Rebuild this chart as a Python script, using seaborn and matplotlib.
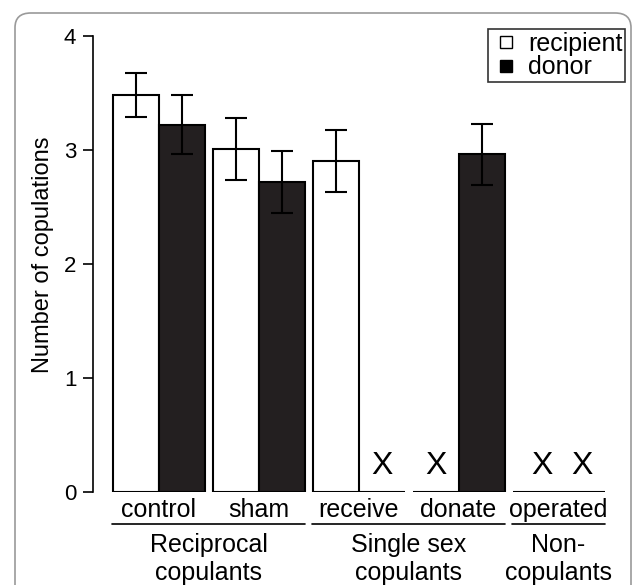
import matplotlib
matplotlib.use('Agg')
import matplotlib.pyplot as plt
from matplotlib.lines import Line2D
from matplotlib.patches import FancyBboxPatch
import seaborn as sns
import pandas as pd

sns.set_style('white')
plt.rcParams['font.family'] = ['Liberation Sans', 'DejaVu Sans']
plt.rcParams['text.color'] = 'black'
plt.rcParams['axes.labelcolor'] = 'black'
plt.rcParams['xtick.color'] = 'black'
plt.rcParams['ytick.color'] = 'black'

groups = ['control', 'sham', 'receive', 'donate', 'operated']
recipient_mean = [3.48, 3.01, 2.90, 0.0, 0.0]
recipient_se = [0.19, 0.27, 0.27, 0.0, 0.0]
donor_mean = [3.22, 2.72, 0.0, 2.96, 0.0]
donor_se = [0.26, 0.27, 0.0, 0.265, 0.0]
roles = ['recipient', 'donor']
super_groups = ['Reciprocal\ncopulants', 'Single sex\ncopulants', 'Non-\ncopulants']
super_spans = [(0, 1), (2, 3), (4, 4)]

df = pd.DataFrame({
    'group': groups * 2,
    'role': ['recipient'] * len(groups) + ['donor'] * len(groups),
    'mean': recipient_mean + donor_mean,
    'se': recipient_se + donor_se,
})

fig = plt.figure(figsize=(6.33, 5.85), dpi=100)
ax = fig.add_axes([93 / 633, 1 - 492 / 585, 512 / 633, 463 / 585])

colors = {'recipient': 'white', 'donor': '#231f20'}
sns.barplot(data=df, x='group', y='mean', hue='role', hue_order=roles, order=groups,
            palette=colors, edgecolor='black', linewidth=1.5, width=0.92, gap=0,
            saturation=1, errorbar=None, legend=False, ax=ax)

bar_w = 0.46
for j, role in enumerate(roles):
    off = (j - 0.5) * bar_w
    sub = df[df['role'] == role].reset_index(drop=True)
    for i, row in sub.iterrows():
        x = i + off
        if row['mean'] > 0:
            ax.errorbar(x, row['mean'], yerr=row['se'], color='black', lw=1.5,
                        capsize=8, capthick=1.5)
        else:
            ax.text(x + (0.06 if i == 4 and j == 0 else 0), 0.1, 'X', ha='center',
                    va='bottom', fontsize=23)

ax.set_xlim(-0.655, 4.465)
ax.set_ylim(0, 4.06)
ax.set_yticks([0, 1, 2, 3, 4])
ax.set_xlabel('')
ax.set_ylabel('Number of copulations', fontsize=17)
ax.yaxis.set_label_coords(-0.076, 0.512)
ax.tick_params(axis='y', left=True, direction='out', length=7, width=1.2,
               labelsize=16, pad=5)
ax.tick_params(axis='x', length=0, labelsize=18, pad=4)
for s in ['top', 'right', 'bottom']:
    ax.spines[s].set_visible(False)
ax.spines['left'].set_bounds(0, 4)
ax.spines['left'].set_color('black')
ax.spines['left'].set_linewidth(1.2)

# group brackets below the category labels
trans = ax.get_xaxis_transform()
for name, (a, b) in zip(super_groups, super_spans):
    x0, x1 = a - 0.465, b + 0.465
    ax.plot([x0, x1], [-0.07, -0.07], color='black', lw=1.2, transform=trans,
            clip_on=False)
    ax.text((x0 + x1) / 2, -0.088, name, ha='center', va='top', fontsize=18,
            linespacing=1.22, transform=trans)

handles = [Line2D([], [], marker='s', ls='', markersize=8.5, markerfacecolor='white',
                  markeredgecolor='black', markeredgewidth=1),
           Line2D([], [], marker='s', ls='', markersize=8.5, markerfacecolor='black',
                  markeredgecolor='black')]
leg = ax.legend(handles, roles, loc='upper right', bbox_to_anchor=(625 / 633, 1 - 29 / 585),
                bbox_transform=fig.transFigure, fontsize=18, frameon=True, fancybox=False,
                handlelength=1.2, handletextpad=0.3, borderpad=0.1, labelspacing=0.0,
                borderaxespad=0)
leg.get_frame().set_edgecolor('black')
leg.get_frame().set_linewidth(1.2)

border = FancyBboxPatch((15 / 633, -0.1), (631 - 15) / 633, 1.1 - 13 / 585,
                        boxstyle='round,pad=0,rounding_size=0.025',
                        transform=fig.transFigure, facecolor='none',
                        edgecolor='#9a9a9a', lw=1.2)
fig.patches.append(border)

fig.savefig('out.png', dpi=100)
